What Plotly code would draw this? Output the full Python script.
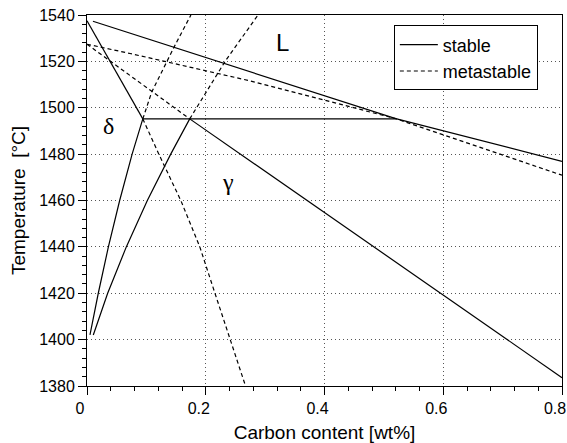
import plotly.graph_objects as go

# ---- data ----
# stable (solid) curves
liq_x = [0.01, 0.52, 0.80]
liq_t = [1537.3, 1495.3, 1476.9]
delta_sol_x = [0.0, 0.094]
delta_sol_t = [1537.5, 1495.2]
peritectic_x = [0.094, 0.52]
peritectic_t = [1495.2, 1495.2]
delta_bnd_x = [0.094, 0.076, 0.055, 0.036, 0.019, 0.005]
delta_bnd_t = [1495.2, 1480.0, 1460.0, 1440.0, 1420.0, 1402.0]
gamma_bnd_x = [0.173, 0.141, 0.1016, 0.0662, 0.0348, 0.0106]
gamma_bnd_t = [1495.2, 1480.0, 1460.0, 1440.0, 1420.0, 1402.0]
gamma_sol_x = [0.173, 0.80]
gamma_sol_t = [1495.2, 1383.6]

# metastable (dashed) curves
m_liq_x = [0.0, 0.0725, 0.2746, 0.443, 0.52, 0.80]
m_liq_t = [1527.4, 1523.4, 1511.6, 1500.3, 1495.3, 1470.9]
m_sol_x = [0.0, 0.173]
m_sol_t = [1527.4, 1495.2]
m_delta_up_x = [0.094, 0.109, 0.1483, 0.175]
m_delta_up_t = [1495.2, 1506.8, 1527.0, 1540.0]
m_gamma_up_x = [0.173, 0.2336, 0.288]
m_gamma_up_t = [1495.2, 1520.4, 1540.0]
m_delta_down_x = [0.094, 0.121, 0.158, 0.190, 0.2155, 0.2415, 0.267]
m_delta_down_t = [1495.2, 1480.0, 1460.0, 1440.0, 1420.0, 1400.0, 1380.0]

x_ticks = [0, 0.2, 0.4, 0.6, 0.8]
x_tick_labels = ["0", "0.2", "0.4", "0.6", "0.8"]
y_ticks = [1380, 1400, 1420, 1440, 1460, 1480, 1500, 1520, 1540]

phase_labels = ["L", "δ", "γ"]
phase_x = [0.330, 0.036, 0.238]
phase_t = [1528.3, 1492.0, 1468.0]


def join(pairs):
    xs, ys = [], []
    for px, py in pairs:
        xs += list(px) + [None]
        ys += list(py) + [None]
    return xs, ys


sx, sy = join([(liq_x, liq_t), (delta_sol_x, delta_sol_t), (peritectic_x, peritectic_t),
               (delta_bnd_x, delta_bnd_t), (gamma_bnd_x, gamma_bnd_t), (gamma_sol_x, gamma_sol_t)])
mx, my = join([(m_liq_x, m_liq_t), (m_sol_x, m_sol_t), (m_delta_up_x, m_delta_up_t),
               (m_gamma_up_x, m_gamma_up_t), (m_delta_down_x, m_delta_down_t)])

fig = go.Figure()
fig.add_trace(go.Scatter(x=sx, y=sy, mode="lines", name="stable",
                         line=dict(color="black", width=1.2), connectgaps=False))
fig.add_trace(go.Scatter(x=mx, y=my, mode="lines", name="metastable",
                         line=dict(color="black", width=1.2, dash="4px,3px"), connectgaps=False))

for lab, lx, ly in zip(phase_labels, phase_x, phase_t):
    fam = "Liberation Sans, Arial" if lab == "L" else "Liberation Serif, Times New Roman"
    fig.add_annotation(x=lx, y=ly, text=lab, showarrow=False,
                       font=dict(family=fam, size=24, color="black"))

axis_common = dict(
    showline=True, linecolor="black", linewidth=1, mirror=True,
    ticks="outside", ticklen=8, tickwidth=1, tickcolor="black",
    showgrid=True, gridcolor="#555555", gridwidth=1, griddash="1px,3px",
    zeroline=False, tickfont=dict(size=16, color="black"), automargin=False,
    ticklabeloverflow="allow",
)

fig.update_xaxes(range=[0, 0.8], tickvals=x_ticks, ticktext=x_tick_labels, ticklabelshift=-7,
                 minor=dict(ticks="outside", ticklen=4, dtick=0.04, tick0=0, tickcolor="black", showgrid=False),
                 title=dict(text="Carbon content [wt%]", font=dict(size=19, color="black"), standoff=10),
                 **axis_common)
fig.update_yaxes(range=[1380, 1540], tickvals=y_ticks,
                 minor=dict(ticks="outside", ticklen=4, dtick=4, tick0=1380, tickcolor="black", showgrid=False),
                 title=dict(text="Temperature  [°C]", font=dict(size=19, color="black"), standoff=8),
                 **axis_common)

fig.update_layout(
    width=567, height=443,
    margin=dict(l=87, r=5, t=15, b=57),
    paper_bgcolor="white", plot_bgcolor="white",
    font=dict(family="Liberation Sans, Arial, sans-serif", color="black"),
    legend=dict(x=0.646, y=0.972, xanchor="left", yanchor="top",
                bgcolor="white", bordercolor="black", borderwidth=1,
                font=dict(size=18, color="black"), tracegroupgap=0, itemwidth=38),
    showlegend=True,
)

fig.write_html("out.html", config={"displayModeBar": False},
               post_script="document.body.style.margin='0px';")
